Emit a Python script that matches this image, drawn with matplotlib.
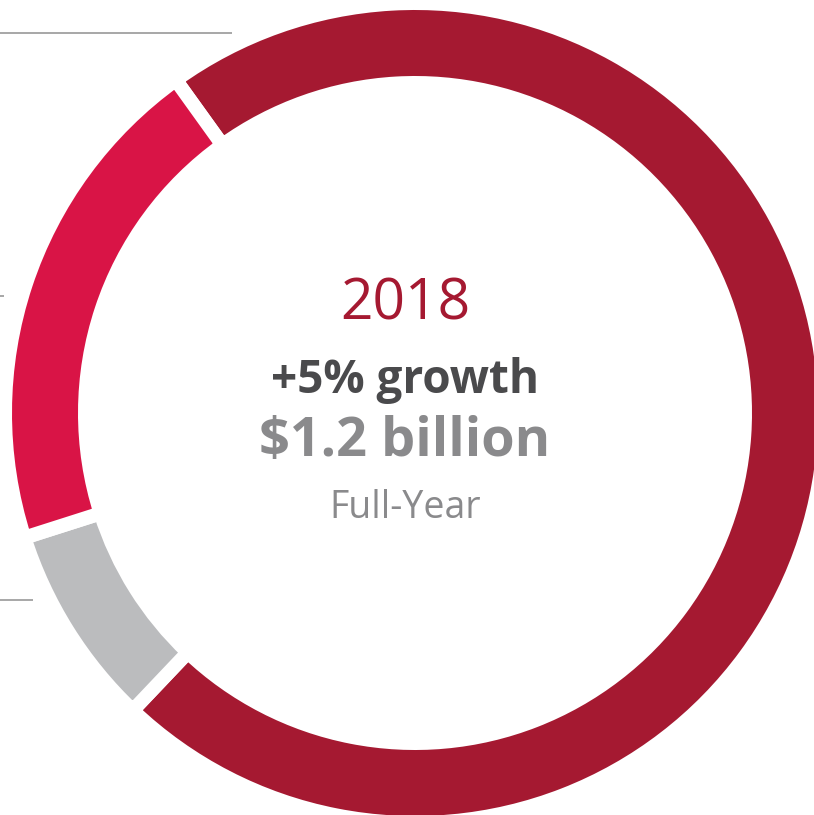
import matplotlib
matplotlib.use("Agg")
import matplotlib.pyplot as plt

segments = ["Segment A", "Segment B", "Segment C"]
shares = [72, 8, 20]
colors = ["#A51931", "#BBBCBE", "#D91446"]

title_year = "2018"
growth_text = "+5% growth"
value_text = "$1.2 billion"
period_text = "Full-Year"

W, H = 814, 815
fig = plt.figure(figsize=(W / 100, H / 100), dpi=100)
ax = fig.add_axes([0, 0, 1, 1])

cx, cy = 415, 413
gap_px = 14
lw_pt = gap_px * 72 / 100
# y axis is inverted below, so angles are mirrored: counterclockwise in data
# appears clockwise on screen.
ax.pie(shares, colors=colors, startangle=-125.7, counterclock=True,
       center=(cx, cy), radius=403 + gap_px / 2, frame=True,
       wedgeprops=dict(width=66 + gap_px, edgecolor="white", linewidth=lw_pt))
ax.set_xlim(0, W)
ax.set_ylim(H, 0)
ax.set_aspect("equal")
ax.axis("off")

# leader lines on the left
for (y, x1) in [(33, 232), (296, 4), (600, 33)]:
    ax.plot([0, x1], [y, y], color="#A7A7A7", lw=1.4, solid_capstyle="butt")

fam = ["Open Sans", "DejaVu Sans"]
tx = 405
ax.text(tx, 305, title_year, ha="center", va="center", fontsize=41,
        color="#A51931", family=fam)
ax.text(tx, 380, growth_text, ha="center", va="center", fontsize=33,
        color="#4A4A4C", family=fam, fontweight="bold")
ax.text(tx, 442, value_text, ha="center", va="center", fontsize=39,
        color="#8A8A8C", family=fam, fontweight="bold")
ax.text(tx, 508, period_text, ha="center", va="center", fontsize=27,
        color="#8A8A8C", family=fam)

fig.savefig("out.png", dpi=100, facecolor="white")
